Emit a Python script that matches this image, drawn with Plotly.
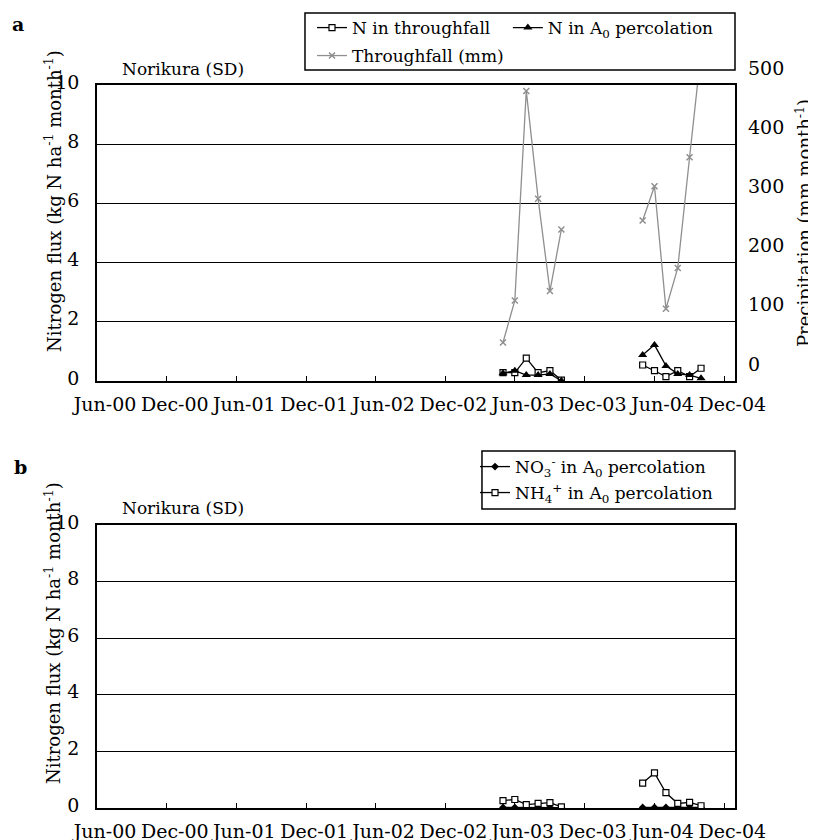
import plotly.graph_objects as go

# ---------------- data ----------------
months = ["2003-05-01", "2003-06-01", "2003-07-01", "2003-08-01", "2003-09-01", "2003-10-01",
          "2003-11-01", "2003-12-01", "2004-01-01", "2004-02-01", "2004-03-01", "2004-04-01",
          "2004-05-01", "2004-06-01", "2004-07-01", "2004-08-01", "2004-09-01", "2004-10-01"]
gap = [None] * 6
n_throughfall = [0.28, 0.28, 0.77, 0.28, 0.35, 0.03] + gap + [0.54, 0.35, 0.15, 0.35, 0.15, 0.43]
n_a0_percolation = [0.26, 0.35, 0.20, 0.20, 0.24, 0.01] + gap + [0.88, 1.22, 0.51, 0.24, 0.20, 0.09]
throughfall_mm = [65, 136, 490, 308, 152, 256] + gap + [271, 329, 122, 191, 378, 556]
no3_a0 = [0.02, 0.02, 0.02, 0.02, 0.02, 0.01] + gap + [0.02, 0.02, 0.02, 0.02, 0.02, 0.02]
nh4_a0 = [0.26, 0.30, 0.12, 0.16, 0.19, 0.04] + gap + [0.88, 1.24, 0.54, 0.16, 0.20, 0.08]

tick_dates = ["2000-06-01", "2000-12-01", "2001-06-01", "2001-12-01", "2002-06-01",
              "2002-12-01", "2003-06-01", "2003-12-01", "2004-06-01", "2004-12-01"]
tick_labels = ["Jun-00", "Dec-00", "Jun-01", "Dec-01", "Jun-02",
               "Dec-02", "Jun-03", "Dec-03", "Jun-04", "Dec-04"]
flux_ticks = [0, 2, 4, 6, 8, 10]
precip_ticks = [0, 100, 200, 300, 400, 500]

FONT = "DejaVu Serif"
GRAY = "#8f8f8f"

fig = go.Figure()

fig.add_trace(go.Scatter(
    x=months, y=n_throughfall, name="N in throughfall", mode="lines+markers",
    line=dict(color="black", width=1.3),
    marker=dict(symbol="square", size=6, color="white", line=dict(color="black", width=1.2)),
    xaxis="x", yaxis="y", legend="legend"))
fig.add_trace(go.Scatter(
    x=months, y=n_a0_percolation, name="N in A<sub>0</sub> percolation", mode="lines+markers",
    line=dict(color="black", width=1.3),
    marker=dict(symbol="triangle-up", size=8, color="black"),
    xaxis="x", yaxis="y", legend="legend5"))
fig.add_trace(go.Scatter(
    x=months, y=throughfall_mm, name="Throughfall (mm)", mode="lines+markers",
    line=dict(color=GRAY, width=1.3),
    marker=dict(symbol="x-thin", size=6, color=GRAY, line=dict(color=GRAY, width=1.5)),
    xaxis="x", yaxis="y2", legend="legend2"))
fig.add_trace(go.Scatter(
    x=months, y=no3_a0, name="NO<sub>3</sub><sup>-</sup> in A<sub>0</sub> percolation",
    mode="lines+markers",
    line=dict(color="black", width=1.3),
    marker=dict(symbol="diamond", size=6, color="black"),
    xaxis="x2", yaxis="y3", legend="legend3"))
fig.add_trace(go.Scatter(
    x=months, y=nh4_a0, name="NH<sub>4</sub><sup>+</sup> in A<sub>0</sub> percolation",
    mode="lines+markers",
    line=dict(color="black", width=1.3),
    marker=dict(symbol="square", size=6, color="white", line=dict(color="black", width=1.2)),
    xaxis="x2", yaxis="y3", legend="legend4"))

xcommon = dict(type="date", range=["2000-06-01", "2004-12-29"],
               tickvals=tick_dates, ticktext=tick_labels,
               ticks="inside", ticklen=5, tickcolor="black", tickwidth=1,
               showline=True, linecolor="black", linewidth=1.5, mirror=True,
               showgrid=False, zeroline=False, ticklabelshift=8, ticklabelstandoff=5,
               tickfont=dict(family=FONT, size=19, color="black"))
ycommon = dict(range=[0, 10], tickvals=flux_ticks, ticks="",
               showline=True, linecolor="black", linewidth=1.5, mirror=True,
               showgrid=True, gridcolor="black", gridwidth=1, zeroline=False,
               ticklabelstandoff=12, ticklabelshift=-3,
               tickfont=dict(family=FONT, size=19, color="black"))

legend_common = dict(orientation="h", xanchor="left", yanchor="middle",
                     bgcolor="rgba(0,0,0,0)", borderwidth=0,
                     font=dict(family=FONT, size=17))

fig.update_layout(
    width=816, height=840,
    margin=dict(l=89, r=89, t=77, b=40, autoexpand=False),
    paper_bgcolor="white", plot_bgcolor="white",
    font=dict(family=FONT, size=17, color="black"),
    xaxis=dict(domain=[0, 1], anchor="y", **xcommon),
    yaxis=dict(domain=[0.5906, 1], anchor="x", **ycommon),
    yaxis2=dict(overlaying="y", side="right", anchor="x", range=[0, 500],
                tickvals=precip_ticks, ticks="", showgrid=False, zeroline=False,
                showline=False, ticklabelshift=-17, ticklabelstandoff=12,
                tickfont=dict(family=FONT, size=19, color="black")),
    xaxis2=dict(domain=[0, 1], anchor="y3", **xcommon),
    yaxis3=dict(domain=[0, 0.3914], anchor="x2", **ycommon),
    showlegend=True,
    legend=dict(x=0.337, y=1.0788, **legend_common),
    legend5=dict(x=0.644, y=1.0788, **legend_common),
    legend2=dict(x=0.337, y=1.0401, **legend_common),
    legend3=dict(x=0.5925, y=0.4716, **legend_common),
    legend4=dict(x=0.5925, y=0.4357, **legend_common),
    shapes=[
        dict(type="rect", xref="paper", yref="paper", x0=0.326, x1=1.0, y0=1.0207, y1=1.0996,
             line=dict(color="black", width=1.5), fillcolor="rgba(0,0,0,0)"),
        dict(type="rect", xref="paper", yref="paper", x0=0.6034, x1=1.0, y0=0.4136, y1=0.4938,
             line=dict(color="black", width=1.5), fillcolor="rgba(0,0,0,0)"),
    ],
    annotations=[
        dict(text="<b>a</b>", xref="paper", yref="paper", x=-0.137, y=1.0844,
             xanchor="left", yanchor="middle", showarrow=False, font=dict(size=19)),
        dict(text="<b>b</b>", xref="paper", yref="paper", x=-0.134, y=0.4722,
             xanchor="left", yanchor="middle", showarrow=False, font=dict(size=19)),
        dict(text="Norikura (SD)", xref="paper", yref="paper", x=0.036, y=1.0221,
             xanchor="left", yanchor="middle", showarrow=False),
        dict(text="Norikura (SD)", xref="paper", yref="paper", x=0.036, y=0.4149,
             xanchor="left", yanchor="middle", showarrow=False),
        dict(text="Nitrogen flux (kg N ha<sup>-1</sup> month<sup>-1</sup>)",
             xref="paper", yref="paper", x=-0.069, y=0.8396, textangle=-90,
             xanchor="center", yanchor="middle", showarrow=False, font=dict(size=18)),
        dict(text="Nitrogen flux (kg N ha<sup>-1</sup> month<sup>-1</sup>)",
             xref="paper", yref="paper", x=-0.069, y=0.2420, textangle=-90,
             xanchor="center", yanchor="middle", showarrow=False, font=dict(size=18)),
        dict(text="Precipitation (mm month<sup>-1</sup>)",
             xref="paper", yref="paper", x=1.108, y=0.809, textangle=-90,
             xanchor="center", yanchor="middle", showarrow=False, font=dict(size=18)),
    ],
)

fig.write_html("out.html")
